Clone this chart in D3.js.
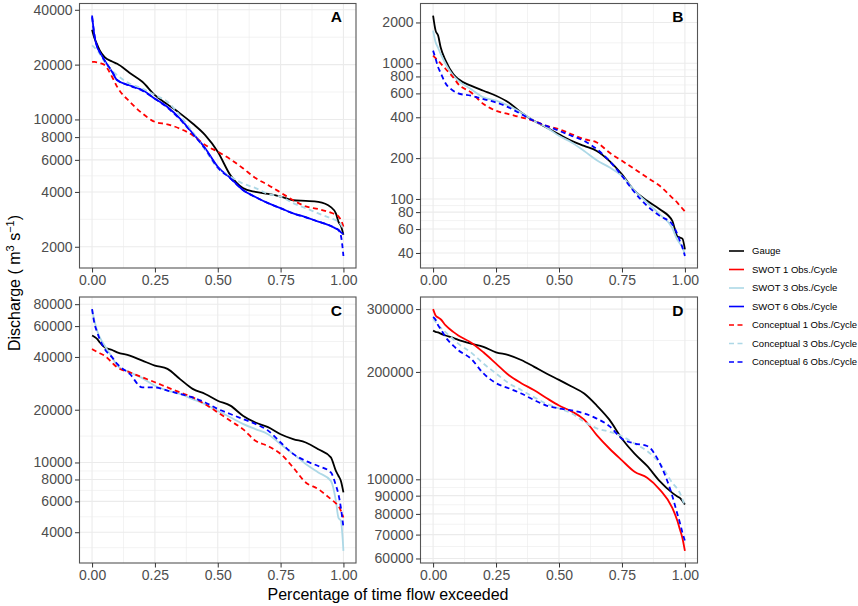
<!DOCTYPE html>
<html><head><meta charset="utf-8">
<script src="https://cdn.jsdelivr.net/npm/d3@7"></script>
<style>
body{margin:0;background:#fff}
text{font-family:"Liberation Sans",Arial,Helvetica,sans-serif}
</style>
</head><body>
<svg id="chart" width="858" height="606"></svg>
<script>
// ---------- DATA ----------
const exceedance = [0,0.01,0.02,0.03,0.05,0.08,0.1,0.15,0.2,0.25,0.3,0.35,0.4,0.45,0.5,0.55,0.6,0.65,0.7,0.75,0.8,0.85,0.9,0.95,0.97,0.98,0.99,1.0];

const seriesNames = ["Gauge","SWOT 1 Obs./Cycle","SWOT 3 Obs./Cycle","SWOT 6 Obs./Cycle",
                     "Conceptual 1 Obs./Cycle","Conceptual 3 Obs./Cycle","Conceptual 6 Obs./Cycle"];

const xTicks = [0,0.25,0.5,0.75,1];
const xTickLabels = ["0.00","0.25","0.50","0.75","1.00"];

const panelLetters = ["A","B","C","D"];
const yTicksA = [2000,4000,6000,8000,10000,20000,40000];
const yTicksB = [40,60,80,100,200,400,600,800,1000,2000];
const yTicksC = [4000,6000,8000,10000,20000,40000,60000,80000];
const yTicksD = [60000,70000,80000,90000,100000,200000,300000];

// Panel A
const gaugeA = [31100,27800,25800,24000,22000,20800,20200,18000,16100,13600,12100,10800,9500,8200,6650,4950,4200,4000,3900,3770,3600,3570,3530,3300,3050,2750,2600,2330];
const swot6A = [37200,28500,25000,23500,21100,18200,16400,15400,14500,13000,11700,10100,8400,6950,5500,4770,4100,3750,3470,3260,3050,2910,2750,2600,2520,2480,2400,2350];
const conc1A = [20700,20700,20600,20400,19900,17100,15100,12500,10800,9700,9400,8900,8200,7240,6650,6050,5400,4770,4370,3970,3600,3330,3220,3080,3000,2940,2800,2580];
const conc3A = [25500,24800,24000,23000,20700,18500,17500,15700,14800,13600,12500,10500,8550,6800,5400,4860,4450,4200,3900,3770,3470,3260,3050,2870,2800,2750,2650,2480];
const conc6A = [36500,28800,25200,23400,21000,18300,16500,15300,14400,13000,11600,10000,8350,6900,5450,4750,4100,3750,3470,3250,3050,2900,2750,2600,2520,2470,2300,1780];

// Panel B
const gaugeB = [2250,1742,1600,1313,1046,834,766,684,628,577,515,434,377,337,300,268,246,226,191,152,115,97,84,69,53,52,51,42.5];
const swot3B = [1742,1430,1300,1172,989,811,745,646,561,530,487,434,377,337,292,261,226,193,171,148,115,94,77,61,50,47,44,39];
const conc1B = [1140,1090,1046,1000,908,788,703,611,501,447,422,399,377,346,327,300,276,261,220,191,166,144,125,102,94,89,85,81];
const conc6B = [1240,1080,935,850,710,628,600,577,545,515,473,422,377,346,318,292,268,233,191,148,112,89,75,65,55,49,44,38];

// Panel C
const gaugeC = [53000,52000,50700,48500,45400,43800,42500,40700,38100,35700,34200,29900,26300,24600,22500,21100,18500,16900,15900,14500,13600,13000,11900,10700,8950,8400,7850,6750];
const swot3C = [74500,64000,56600,52000,46500,39800,35700,32700,30300,27400,25700,24600,23000,21500,19700,18100,16600,15500,14500,12700,11200,9800,8770,7850,6040,4850,4640,3130];
const conc1C = [44400,43500,42700,42000,40700,37000,34900,32700,30600,28700,26800,25100,23500,21500,19300,17300,15500,13300,12400,11200,9370,7690,7050,6180,5850,5660,5300,4850];
const conc6C = [75000,61700,55500,50700,44400,39800,36500,32000,26800,26800,25700,24600,23500,22000,20200,18900,17700,16600,15200,13000,11200,10200,9550,8770,7400,6600,5500,4260];

// Panel D
const gaugeD = [261000,259000,258000,256000,253000,249000,246000,240000,235000,227000,223000,216000,207000,198000,190000,182000,174000,161000,147000,130000,118000,109000,98800,91600,89500,88700,87000,85000];
const swot1D = [300000,288000,284000,281000,270000,259000,253000,242000,227000,211000,196000,186000,178000,169000,161000,155000,147000,133000,122000,113000,105000,101000,93600,83200,76500,72400,68500,63000];
const conc3D = [282000,276000,270000,266000,258000,247000,240000,227000,211000,198000,186000,178000,170000,163000,158000,153000,145000,139000,136000,132000,126000,120000,111000,97800,94000,91600,88000,84100];
const conc6D = [285000,280000,270000,264000,250000,237000,230000,218000,198000,186000,180000,174000,167000,161000,158000,156000,153000,148000,141000,130000,126000,124000,111000,89800,80000,75600,71000,67200];

// ---------- STYLE / LAYOUT ----------
const styleByName = {
  "Gauge":{color:"#000000",dash:null},
  "SWOT 1 Obs./Cycle":{color:"#FF0000",dash:null},
  "SWOT 3 Obs./Cycle":{color:"#ADD8E6",dash:null},
  "SWOT 6 Obs./Cycle":{color:"#0000FF",dash:null},
  "Conceptual 1 Obs./Cycle":{color:"#FF0000",dash:"5,3.5"},
  "Conceptual 3 Obs./Cycle":{color:"#ADD8E6",dash:"5,3.5"},
  "Conceptual 6 Obs./Cycle":{color:"#0000FF",dash:"5,3.5"}
};
const boxes = [
  {x0:79.5,x1:356,y0:3.5,y1:268},
  {x0:420.5,x1:697.5,y0:3.5,y1:268},
  {x0:79.5,x1:356,y0:297,y1:563},
  {x0:420.5,x1:697.5,y0:297,y1:563}
];

const panels = [
  {letter:panelLetters[0], yTicks:yTicksA, series:[[seriesNames[0],gaugeA],[seriesNames[3],swot6A],[seriesNames[4],conc1A],[seriesNames[5],conc3A],[seriesNames[6],conc6A]]},
  {letter:panelLetters[1], yTicks:yTicksB, series:[[seriesNames[0],gaugeB],[seriesNames[2],swot3B],[seriesNames[4],conc1B],[seriesNames[6],conc6B]]},
  {letter:panelLetters[2], yTicks:yTicksC, series:[[seriesNames[0],gaugeC],[seriesNames[2],swot3C],[seriesNames[4],conc1C],[seriesNames[6],conc6C]]},
  {letter:panelLetters[3], yTicks:yTicksD, series:[[seriesNames[0],gaugeD],[seriesNames[1],swot1D],[seriesNames[5],conc3D],[seriesNames[6],conc6D]]}
];

const svg = d3.select("#chart");
const gridColor = "#EBEBEB";
const axisColor = "#333333";
const tickLabelColor = "#4D4D4D";

panels.forEach((p,i)=>{
  const b = boxes[i];
  const g = svg.append("g");
  const x = d3.scaleLinear().domain([-0.05,1.05]).range([b.x0,b.x1]);
  const all = p.series.flatMap(s=>s[1]);
  const lmin = Math.log10(d3.min(all)), lmax = Math.log10(d3.max(all));
  const ex = (lmax-lmin)*0.05;
  const y = d3.scaleLog().domain([Math.pow(10,lmin-ex),Math.pow(10,lmax+ex)]).range([b.y1,b.y0]);

  // minor grid (log-midpoints between majors)
  const lt = p.yTicks.map(Math.log10);
  const minorY = [];
  for(let k=0;k<lt.length-1;k++) minorY.push((lt[k]+lt[k+1])/2);
  minorY.push(lt[0]-(lt[1]-lt[0])/2);
  minorY.push(lt[lt.length-1]+(lt[lt.length-1]-lt[lt.length-2])/2);
  const [dlo,dhi] = y.domain().map(Math.log10);
  minorY.filter(v=>v>dlo&&v<dhi).forEach(v=>{
    g.append("line").attr("x1",b.x0).attr("x2",b.x1)
     .attr("y1",y(Math.pow(10,v))).attr("y2",y(Math.pow(10,v)))
     .attr("stroke",gridColor).attr("stroke-width",0.6);
  });
  [0.125,0.375,0.625,0.875].forEach(v=>{
    g.append("line").attr("y1",b.y0).attr("y2",b.y1).attr("x1",x(v)).attr("x2",x(v))
     .attr("stroke",gridColor).attr("stroke-width",0.6);
  });
  // major grid
  p.yTicks.forEach(v=>{
    g.append("line").attr("x1",b.x0).attr("x2",b.x1).attr("y1",y(v)).attr("y2",y(v))
     .attr("stroke",gridColor).attr("stroke-width",1.1);
  });
  xTicks.forEach(v=>{
    g.append("line").attr("y1",b.y0).attr("y2",b.y1).attr("x1",x(v)).attr("x2",x(v))
     .attr("stroke",gridColor).attr("stroke-width",1.1);
  });

  // lines
  const line = d3.line().x((d,j)=>x(exceedance[j])).y(d=>y(d)).curve(d3.curveMonotoneX);
  p.series.forEach(([name,vals])=>{
    const st = styleByName[name];
    g.append("path").attr("d",line(vals)).attr("fill","none")
     .attr("stroke",st.color).attr("stroke-width",1.8)
     .attr("stroke-dasharray",st.dash).attr("stroke-linejoin","round");
  });

  // border
  g.append("rect").attr("x",b.x0).attr("y",b.y0).attr("width",b.x1-b.x0).attr("height",b.y1-b.y0)
   .attr("fill","none").attr("stroke","#555").attr("stroke-width",1.1);

  // axes
  const yAxis = d3.axisLeft(y).tickValues(p.yTicks).tickFormat(d3.format("d")).tickSize(4.5).tickPadding(2.5);
  const ya = g.append("g").attr("transform",`translate(${b.x0},0)`).call(yAxis);
  const xAxis = d3.axisBottom(x).tickValues(xTicks).tickFormat((d,j)=>xTickLabels[j]).tickSize(4.5).tickPadding(3);
  const xa = g.append("g").attr("transform",`translate(0,${b.y1})`).call(xAxis);
  [ya,xa].forEach(a=>{
    a.select(".domain").remove();
    a.selectAll(".tick line").attr("stroke",axisColor).attr("stroke-width",1);
    a.selectAll(".tick text").attr("fill",tickLabelColor).style("font-size","14px")
     .style("font-family",'"Liberation Sans",Arial,sans-serif');
  });

  // letter
  g.append("text").attr("x",b.x1-14).attr("y",b.y0+18.5).attr("text-anchor","end")
   .style("font-size","15.5px").style("font-weight","bold").attr("fill","#000").text(p.letter);
});

// axis titles
svg.append("text").attr("x",388).attr("y",599.5).attr("text-anchor","middle")
  .style("font-size","16px").attr("fill","#000").text("Percentage of time flow exceeded");
const yt = svg.append("text").attr("transform","translate(20,283) rotate(-90)")
  .attr("text-anchor","middle").style("font-size","16px").attr("fill","#000");
yt.append("tspan").text("Discharge ( m");
yt.append("tspan").attr("dy",-6).style("font-size","11px").text("3");
yt.append("tspan").attr("dy",6).text(" s");
yt.append("tspan").attr("dy",-6).style("font-size","11px").text("\u22121");
yt.append("tspan").attr("dy",6).text(")");

// legend
const lg = svg.append("g");
seriesNames.forEach((name,i)=>{
  const st = styleByName[name];
  const yy = 251 + i*18.5;
  lg.append("line").attr("x1",729).attr("x2",744).attr("y1",yy).attr("y2",yy)
    .attr("stroke",st.color).attr("stroke-width",1.6).attr("stroke-dasharray",st.dash ? "5,3.5" : null);
  lg.append("text").attr("x",752).attr("y",yy+3.4).style("font-size","9.5px").attr("fill","#000").text(name);
});
</script>
</body></html>
